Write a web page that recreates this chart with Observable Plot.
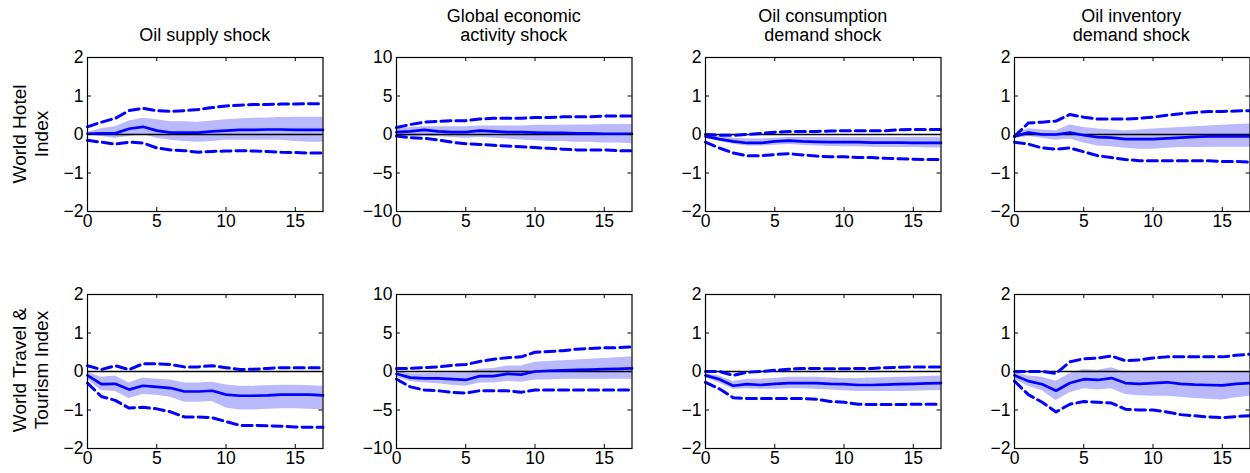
<!DOCTYPE html>
<html>
<head>
<meta charset="utf-8">
<script src="https://cdn.jsdelivr.net/npm/d3@7"></script>
<script src="https://cdn.jsdelivr.net/npm/@observablehq/plot@0.6"></script>
<style>
  html, body { margin: 0; padding: 0; background: #fff; overflow: hidden; }
  #chart { position: relative; width: 1250px; height: 473px; font-family: "Liberation Sans", Arial, Helvetica, sans-serif; color: #000; }
  .panel { position: absolute; }
  .title { position: absolute; width: 260px; text-align: center; font-size: 18px; line-height: 18.5px; }
  .rowlab { position: absolute; width: 200px; text-align: center; font-size: 19px; line-height: 22px; transform: rotate(-90deg); transform-origin: center center; }
</style>
</head>
<body>
<div id="chart"></div>
<script>
// ---------- data ----------
const horizons = [0,1,2,3,4,5,6,7,8,9,10,11,12,13,14,15,16,17];

const shockTitles = [["Oil supply shock"], ["Global economic", "activity shock"], ["Oil consumption", "demand shock"], ["Oil inventory", "demand shock"]];
const indexLabels = [["World Hotel", "Index"], ["World Travel &", "Tourism Index"]];

const xTicks = [0, 5, 10, 15];
const yTicksSmall = [-2, -1, 0, 1, 2];
const yTicksLarge = [-10, -5, 0, 5, 10];

// World Hotel Index — oil supply shock
const hotelSupplyMed = [0.02,0.03,0.03,0.15,0.2,0.1,0.05,0.05,0.05,0.08,0.1,0.12,0.12,0.13,0.13,0.12,0.12,0.12];
const hotelSupplyLo1 = [0.0,-0.05,-0.1,-0.05,0.0,-0.1,-0.15,-0.18,-0.2,-0.18,-0.15,-0.15,-0.15,-0.15,-0.15,-0.18,-0.2,-0.2];
const hotelSupplyHi1 = [0.05,0.15,0.2,0.35,0.42,0.38,0.33,0.33,0.32,0.35,0.38,0.4,0.42,0.43,0.44,0.45,0.45,0.45];
const hotelSupplyLo2 = [-0.15,-0.2,-0.25,-0.2,-0.22,-0.35,-0.4,-0.42,-0.46,-0.44,-0.43,-0.42,-0.43,-0.44,-0.46,-0.47,-0.48,-0.48];
const hotelSupplyHi2 = [0.2,0.32,0.42,0.62,0.68,0.62,0.6,0.62,0.65,0.7,0.74,0.76,0.78,0.78,0.79,0.79,0.8,0.8];

// World Hotel Index — global economic activity shock
const hotelActivityMed = [0.3,0.4,0.6,0.4,0.3,0.3,0.5,0.4,0.3,0.3,0.25,0.2,0.2,0.15,0.15,0.1,0.1,0.1];
const hotelActivityLo1 = [-0.2,-0.3,-0.2,-0.3,-0.4,-0.5,-0.4,-0.5,-0.6,-0.7,-0.8,-0.9,-0.9,-1.0,-1.0,-1.1,-1.1,-1.2];
const hotelActivityHi1 = [0.8,0.9,1.0,1.0,1.0,1.0,1.1,1.1,1.1,1.1,1.2,1.2,1.2,1.25,1.25,1.3,1.3,1.3];
const hotelActivityLo2 = [-0.2,-0.4,-0.5,-0.7,-1.0,-1.2,-1.3,-1.4,-1.5,-1.6,-1.7,-1.8,-1.9,-2.0,-2.0,-2.0,-2.1,-2.1];
const hotelActivityHi2 = [0.9,1.3,1.6,1.7,1.8,1.8,2.0,2.1,2.1,2.1,2.2,2.2,2.3,2.3,2.3,2.4,2.4,2.4];

// World Hotel Index — oil consumption demand shock
const hotelConsMed = [-0.05,-0.12,-0.18,-0.22,-0.22,-0.18,-0.16,-0.18,-0.19,-0.2,-0.2,-0.2,-0.21,-0.21,-0.21,-0.22,-0.22,-0.22];
const hotelConsLo1 = [-0.1,-0.18,-0.25,-0.3,-0.3,-0.28,-0.26,-0.28,-0.3,-0.31,-0.32,-0.32,-0.33,-0.33,-0.34,-0.34,-0.35,-0.35];
const hotelConsHi1 = [0.0,-0.05,-0.1,-0.12,-0.12,-0.1,-0.08,-0.08,-0.08,-0.08,-0.08,-0.08,-0.08,-0.08,-0.08,-0.07,-0.07,-0.07];
const hotelConsLo2 = [-0.2,-0.35,-0.48,-0.55,-0.55,-0.52,-0.5,-0.53,-0.56,-0.58,-0.58,-0.6,-0.6,-0.62,-0.63,-0.64,-0.65,-0.65];
const hotelConsHi2 = [0.0,-0.02,-0.02,0.0,0.03,0.06,0.08,0.08,0.08,0.09,0.1,0.1,0.1,0.1,0.12,0.13,0.13,0.13];

// World Hotel Index — oil inventory demand shock
const hotelInvMed = [-0.05,0.05,0.0,0.0,0.05,-0.02,-0.07,-0.08,-0.12,-0.12,-0.12,-0.1,-0.08,-0.06,-0.05,-0.05,-0.05,-0.05];
const hotelInvLo1 = [-0.1,-0.05,-0.1,-0.15,-0.12,-0.22,-0.3,-0.32,-0.36,-0.38,-0.38,-0.36,-0.34,-0.34,-0.33,-0.33,-0.33,-0.33];
const hotelInvHi1 = [0.0,0.15,0.12,0.1,0.25,0.18,0.14,0.12,0.1,0.12,0.14,0.16,0.18,0.2,0.22,0.24,0.26,0.27];
const hotelInvLo2 = [-0.2,-0.25,-0.35,-0.38,-0.35,-0.45,-0.55,-0.6,-0.65,-0.68,-0.68,-0.68,-0.68,-0.68,-0.68,-0.7,-0.7,-0.72];
const hotelInvHi2 = [-0.05,0.3,0.32,0.35,0.52,0.45,0.4,0.4,0.4,0.42,0.45,0.5,0.54,0.57,0.6,0.6,0.61,0.62];

// World Travel & Tourism Index — oil supply shock
const travelSupplyMed = [-0.1,-0.33,-0.32,-0.47,-0.37,-0.4,-0.43,-0.52,-0.52,-0.5,-0.6,-0.63,-0.63,-0.62,-0.6,-0.6,-0.6,-0.62];
const travelSupplyLo1 = [-0.2,-0.5,-0.52,-0.7,-0.6,-0.62,-0.67,-0.8,-0.8,-0.78,-0.95,-1.0,-1.0,-0.98,-0.97,-0.97,-0.98,-1.0];
const travelSupplyHi1 = [-0.02,-0.15,-0.12,-0.3,-0.17,-0.2,-0.22,-0.3,-0.3,-0.28,-0.35,-0.38,-0.38,-0.37,-0.36,-0.36,-0.37,-0.38];
const travelSupplyLo2 = [-0.3,-0.65,-0.75,-0.95,-0.93,-0.97,-1.05,-1.18,-1.18,-1.2,-1.3,-1.4,-1.4,-1.41,-1.42,-1.44,-1.45,-1.45];
const travelSupplyHi2 = [0.15,0.05,0.15,0.05,0.2,0.2,0.18,0.12,0.12,0.15,0.1,0.05,0.06,0.08,0.1,0.1,0.1,0.1];

// World Travel & Tourism Index — global economic activity shock
const travelActivityMed = [-0.3,-0.8,-0.9,-0.9,-1.0,-1.1,-0.6,-0.6,-0.3,-0.4,0.0,0.1,0.15,0.2,0.25,0.3,0.35,0.4];
const travelActivityLo1 = [-0.7,-1.3,-1.5,-1.6,-1.8,-1.9,-1.5,-1.5,-1.3,-1.4,-1.1,-1.1,-1.0,-1.0,-1.0,-1.0,-1.0,-1.0];
const travelActivityHi1 = [0.0,-0.3,-0.3,-0.2,-0.2,-0.1,0.3,0.4,0.7,0.7,1.2,1.3,1.4,1.5,1.6,1.7,1.8,1.9];
const travelActivityLo2 = [-1.0,-2.0,-2.4,-2.5,-2.7,-2.8,-2.5,-2.5,-2.5,-2.7,-2.4,-2.4,-2.4,-2.4,-2.4,-2.4,-2.4,-2.4];
const travelActivityHi2 = [0.4,0.4,0.5,0.6,0.8,0.9,1.3,1.6,1.8,1.9,2.5,2.6,2.7,2.9,3.0,3.1,3.1,3.2];

// World Travel & Tourism Index — oil consumption demand shock
const travelConsMed = [-0.1,-0.2,-0.37,-0.33,-0.35,-0.32,-0.3,-0.3,-0.3,-0.32,-0.33,-0.35,-0.35,-0.34,-0.33,-0.32,-0.31,-0.3];
const travelConsLo1 = [-0.16,-0.3,-0.46,-0.45,-0.46,-0.46,-0.45,-0.45,-0.46,-0.48,-0.5,-0.52,-0.52,-0.52,-0.52,-0.51,-0.5,-0.5];
const travelConsHi1 = [-0.05,-0.12,-0.26,-0.2,-0.2,-0.18,-0.15,-0.15,-0.15,-0.17,-0.18,-0.18,-0.17,-0.16,-0.15,-0.14,-0.13,-0.12];
const travelConsLo2 = [-0.28,-0.45,-0.68,-0.7,-0.7,-0.7,-0.7,-0.7,-0.72,-0.78,-0.8,-0.85,-0.86,-0.86,-0.86,-0.85,-0.85,-0.85];
const travelConsHi2 = [0.0,0.0,-0.1,-0.02,0.0,0.03,0.06,0.08,0.08,0.07,0.07,0.08,0.08,0.1,0.11,0.12,0.12,0.12];

// World Travel & Tourism Index — oil inventory demand shock
const travelInvMed = [-0.1,-0.25,-0.33,-0.5,-0.3,-0.2,-0.22,-0.17,-0.3,-0.32,-0.3,-0.28,-0.32,-0.34,-0.35,-0.36,-0.32,-0.3];
const travelInvLo1 = [-0.2,-0.38,-0.5,-0.75,-0.55,-0.45,-0.48,-0.45,-0.6,-0.63,-0.64,-0.64,-0.67,-0.7,-0.72,-0.74,-0.68,-0.64];
const travelInvHi1 = [-0.02,-0.12,-0.15,-0.25,-0.05,0.05,0.03,0.1,-0.02,-0.03,-0.02,0.0,-0.02,-0.03,-0.04,-0.03,-0.02,0.0];
const travelInvLo2 = [-0.25,-0.6,-0.8,-1.05,-0.85,-0.78,-0.8,-0.82,-0.98,-1.0,-1.0,-1.05,-1.12,-1.15,-1.18,-1.2,-1.17,-1.15];
const travelInvHi2 = [0.0,0.0,0.0,-0.05,0.25,0.33,0.35,0.4,0.28,0.3,0.35,0.38,0.38,0.38,0.38,0.38,0.42,0.45];

const panelSeries = [
  [ [hotelSupplyMed, hotelSupplyLo1, hotelSupplyHi1, hotelSupplyLo2, hotelSupplyHi2],
    [hotelActivityMed, hotelActivityLo1, hotelActivityHi1, hotelActivityLo2, hotelActivityHi2],
    [hotelConsMed, hotelConsLo1, hotelConsHi1, hotelConsLo2, hotelConsHi2],
    [hotelInvMed, hotelInvLo1, hotelInvHi1, hotelInvLo2, hotelInvHi2] ],
  [ [travelSupplyMed, travelSupplyLo1, travelSupplyHi1, travelSupplyLo2, travelSupplyHi2],
    [travelActivityMed, travelActivityLo1, travelActivityHi1, travelActivityLo2, travelActivityHi2],
    [travelConsMed, travelConsLo1, travelConsHi1, travelConsLo2, travelConsHi2],
    [travelInvMed, travelInvLo1, travelInvHi1, travelInvLo2, travelInvHi2] ]
];
const yLimits = [2, 10, 2, 2];

// ---------- layout ----------
const chart = document.getElementById("chart");
const panelLeft = [87, 396, 705, 1013.5];
const rowTop = [56.7, 293.5];
const plotW = 235.5, plotH = 154;
const ml = 44, mr = 2, mt = 4, mb = 26;
const blue = "#0000ff";
const band = "#b9b9fb";
const tickLen = 4;

for (let r = 0; r < 2; r++) {
  for (let c = 0; c < 4; c++) {
    const [med, lo1, hi1, lo2, hi2] = panelSeries[r][c];
    const rows = horizons.map((h, i) => ({h, med: med[i], lo1: lo1[i], hi1: hi1[i], lo2: lo2[i], hi2: hi2[i]}));
    const lim = yLimits[c];
    const yTicks = lim === 10 ? yTicksLarge : yTicksSmall;
    const svg = Plot.plot({
      width: ml + plotW + mr,
      height: mt + plotH + mb,
      marginLeft: ml, marginRight: mr, marginTop: mt, marginBottom: mb,
      style: {fontFamily: '"Liberation Sans", Arial, Helvetica, sans-serif', fontSize: "17.5px", color: "#000", background: "transparent", overflow: "visible"},
      x: {domain: [0, 17]},
      y: {domain: [-lim, lim]},
      marks: [
        Plot.areaY(rows, {x: "h", y1: "lo1", y2: "hi1", fill: band, fillOpacity: 1}),
        Plot.ruleY([0], {stroke: "#000", strokeWidth: 1.5}),
        Plot.lineY(rows, {x: "h", y: "hi2", stroke: blue, strokeWidth: 3, strokeDasharray: "10,5"}),
        Plot.lineY(rows, {x: "h", y: "lo2", stroke: blue, strokeWidth: 3, strokeDasharray: "10,5"}),
        Plot.lineY(rows, {x: "h", y: "med", stroke: blue, strokeWidth: 2.7}),
        Plot.tickX(xTicks, {x: d => d, stroke: "#000", insetTop: plotH - tickLen}),
        Plot.tickX(xTicks, {x: d => d, stroke: "#000", insetBottom: plotH - tickLen}),
        Plot.tickY(yTicks, {y: d => d, stroke: "#000", insetRight: plotW - tickLen}),
        Plot.tickY(yTicks, {y: d => d, stroke: "#000", insetLeft: plotW - tickLen}),
        Plot.frame({stroke: "#000", strokeWidth: 1.2}),
        Plot.axisX(xTicks, {tickSize: 0, tickPadding: 3, label: null, fontSize: 17.5}),
        Plot.axisY(yTicks, {tickSize: 0, tickPadding: 4, label: null, fontSize: 17.5, tickFormat: d => d < 0 ? "\u2212" + Math.abs(d) : String(d)})
      ]
    });
    svg.classList.add("panel");
    svg.style.left = (panelLeft[c] - ml) + "px";
    svg.style.top = (rowTop[r] - mt) + "px";
    chart.appendChild(svg);
  }
}

// titles
shockTitles.forEach((lines, c) => {
  const d = document.createElement("div");
  d.className = "title";
  d.innerHTML = lines.join("<br>");
  d.style.left = (panelLeft[c] + plotW / 2 - 130) + "px";
  d.style.top = (lines.length === 1 ? 26 : 7) + "px";
  chart.appendChild(d);
});

// row labels
const rowCenter = [134, 370];
indexLabels.forEach((lines, r) => {
  const d = document.createElement("div");
  d.className = "rowlab";
  d.innerHTML = lines.join("<br>");
  d.style.left = (31 - 100) + "px";
  d.style.top = (rowCenter[r] - 22) + "px";
  chart.appendChild(d);
});
</script>
</body>
</html>
